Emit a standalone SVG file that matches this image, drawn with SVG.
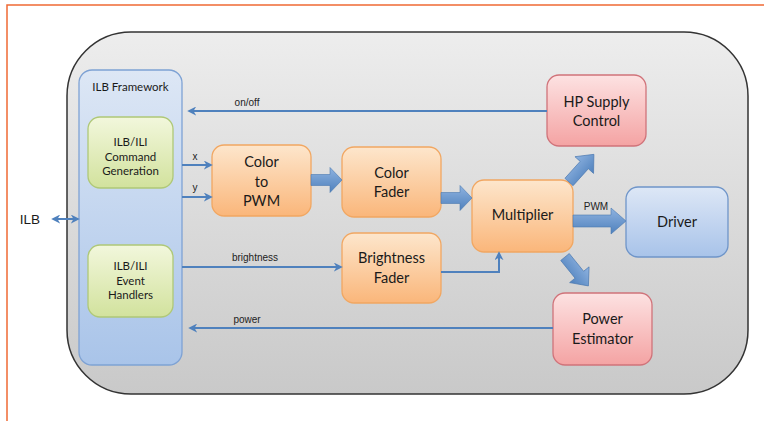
<svg xmlns="http://www.w3.org/2000/svg" width="764" height="421" viewBox="0 0 764 421">
<defs>
<linearGradient id="gBg" x1="0" y1="0" x2="0" y2="1"><stop offset="0" stop-color="#ededed"/><stop offset="1" stop-color="#c9c9c9"/></linearGradient>
<linearGradient id="gFw" x1="0" y1="0" x2="0" y2="1"><stop offset="0" stop-color="#dde7f5"/><stop offset="1" stop-color="#a9c4e9"/></linearGradient>
<linearGradient id="gGr" x1="0" y1="0" x2="0" y2="1"><stop offset="0" stop-color="#f2f7dc"/><stop offset="1" stop-color="#d2e29d"/></linearGradient>
<linearGradient id="gOr" x1="0" y1="0" x2="0" y2="1"><stop offset="0" stop-color="#fde6cc"/><stop offset="1" stop-color="#fab67a"/></linearGradient>
<linearGradient id="gRd" x1="0" y1="0" x2="0" y2="1"><stop offset="0" stop-color="#fde2e2"/><stop offset="1" stop-color="#f4a3a3"/></linearGradient>
<linearGradient id="gBl" x1="0" y1="0" x2="0" y2="1"><stop offset="0" stop-color="#dde7f6"/><stop offset="1" stop-color="#a8c3e9"/></linearGradient>
<linearGradient id="gAr" x1="0" y1="0" x2="0" y2="1"><stop offset="0" stop-color="#8fb3e0"/><stop offset="1" stop-color="#4f81bd"/></linearGradient>
<marker id="ah2" viewBox="0 0 10 10" refX="8" refY="5" markerWidth="9" markerHeight="9" orient="auto-start-reverse" markerUnits="userSpaceOnUse">
<path d="M0,0 L10,5 L0,10 L3,5 Z" fill="#4f81bd"/>
</marker>
<path id="blk" d="M0,-5.5 L19,-5.5 L19,-12.5 L31,0 L19,12.5 L19,5.5 L0,5.5 Z"/>
</defs>
<style>
.box{stroke-width:1.3}
.t{font-family:Lato,"Open Sans",sans-serif;fill:#1a1a1a;text-anchor:middle}
.big{font-size:14.5px}
.sm{font-size:11.5px}
.lb{font-family:"Liberation Sans",Arial,sans-serif;fill:#222;font-size:10px;text-anchor:middle}
.ln{fill:none;stroke:#4f81bd;stroke-width:2}
.ba{fill:url(#gAr);stroke:#4a78b0;stroke-width:0.6}
</style>
<rect x="0" y="0" width="764" height="421" fill="#ffffff"/>
<path d="M7,421 V5 H764" fill="none" stroke="#ef6a35" stroke-width="1.5"/>
<g id="container">
<rect x="67" y="32" width="681" height="362" rx="64" fill="url(#gBg)" stroke="#333" stroke-width="1.5"/>
</g>
<g id="framework">
<rect x="79" y="70" width="103" height="295" rx="13" fill="url(#gFw)" stroke="#7ea2d4" class="box"/>
<text class="t sm" x="130.5" y="91">ILB Framework</text>
</g>
<g id="cmdgen">
<rect x="88" y="117" width="85" height="71" rx="12" fill="url(#gGr)" stroke="#afc877" class="box"/>
<text class="t sm" x="130.5" y="146">ILB/ILI</text>
<text class="t sm" x="130.5" y="161">Command</text>
<text class="t sm" x="130.5" y="175">Generation</text>
</g>
<g id="evthandlers">
<rect x="88" y="245" width="85" height="72" rx="12" fill="url(#gGr)" stroke="#afc877" class="box"/>
<text class="t sm" x="130.5" y="270">ILB/ILI</text>
<text class="t sm" x="130.5" y="285">Event</text>
<text class="t sm" x="130.5" y="299">Handlers</text>
</g>
<g id="colortopwm">
<rect x="212" y="145" width="99" height="71" rx="12" fill="url(#gOr)" stroke="#f1a762" class="box"/>
<text class="t big" x="261.5" y="167">Color</text>
<text class="t big" x="261.5" y="187">to</text>
<text class="t big" x="261.5" y="206">PWM</text>
</g>
<g id="colorfader">
<rect x="342" y="147" width="99" height="70" rx="12" fill="url(#gOr)" stroke="#f1a762" class="box"/>
<text class="t big" x="391.5" y="178">Color</text>
<text class="t big" x="391.5" y="197">Fader</text>
</g>
<g id="brightnessfader">
<rect x="342" y="233" width="99" height="70" rx="12" fill="url(#gOr)" stroke="#f1a762" class="box"/>
<text class="t big" x="391.5" y="263">Brightness</text>
<text class="t big" x="391.5" y="283">Fader</text>
</g>
<g id="multiplier">
<rect x="472" y="180" width="101" height="72" rx="12" fill="url(#gOr)" stroke="#f1a762" class="box"/>
<text class="t big" x="522.5" y="220">Multiplier</text>
</g>
<g id="hpsupply">
<rect x="547" y="75" width="99" height="71" rx="12" fill="url(#gRd)" stroke="#d0737a" class="box"/>
<text class="t big" x="596.5" y="107">HP Supply</text>
<text class="t big" x="596.5" y="126">Control</text>
</g>
<g id="driver">
<rect x="626" y="187" width="102" height="70" rx="12" fill="url(#gBl)" stroke="#6f95c9" class="box"/>
<text class="t big" x="677" y="227">Driver</text>
</g>
<g id="powerest">
<rect x="553" y="293" width="99" height="72" rx="12" fill="url(#gRd)" stroke="#d0737a" class="box"/>
<text class="t big" x="602.5" y="324">Power</text>
<text class="t big" x="602.5" y="344">Estimator</text>
</g>
<g id="ilblabel">
<text x="30" y="224" font-family="'Liberation Sans',Arial,sans-serif" font-size="13.5" fill="#1a1a1a" text-anchor="middle">ILB</text>
</g>
<g id="connectors">
<line x1="53" y1="219" x2="78" y2="219" class="ln" stroke="#6d96cc" marker-start="url(#ah2)" marker-end="url(#ah2)"/>
<line x1="547" y1="111" x2="189" y2="111" class="ln" marker-end="url(#ah2)"/>
<text class="lb" x="247" y="106">on/off</text>
<line x1="182" y1="165" x2="211" y2="165" class="ln" marker-end="url(#ah2)"/>
<text class="lb" x="195" y="160">x</text>
<line x1="182" y1="197" x2="211" y2="197" class="ln" marker-end="url(#ah2)"/>
<text class="lb" x="195" y="191">y</text>
<line x1="182" y1="267" x2="341" y2="267" class="ln" marker-end="url(#ah2)"/>
<text class="lb" x="255" y="261">brightness</text>
<polyline points="441,272 499,272 499,253" class="ln" marker-end="url(#ah2)"/>
<line x1="553" y1="328" x2="190" y2="328" class="ln" marker-end="url(#ah2)"/>
<text class="lb" x="247" y="323">power</text>
<use href="#blk" class="ba" transform="translate(311,180)"/>
<use href="#blk" class="ba" transform="translate(441,198)"/>
<path d="M573,215 L611,215 L611,208 L626,221 L611,234 L611,227 L573,227 Z" class="ba"/>
<text class="lb" x="596" y="210">PWM</text>
<use href="#blk" class="ba" transform="translate(569,182) rotate(-48) scale(1.2,1)"/>
<use href="#blk" class="ba" transform="translate(565,257) rotate(51) scale(1.2,1)"/>
</g>
</svg>
